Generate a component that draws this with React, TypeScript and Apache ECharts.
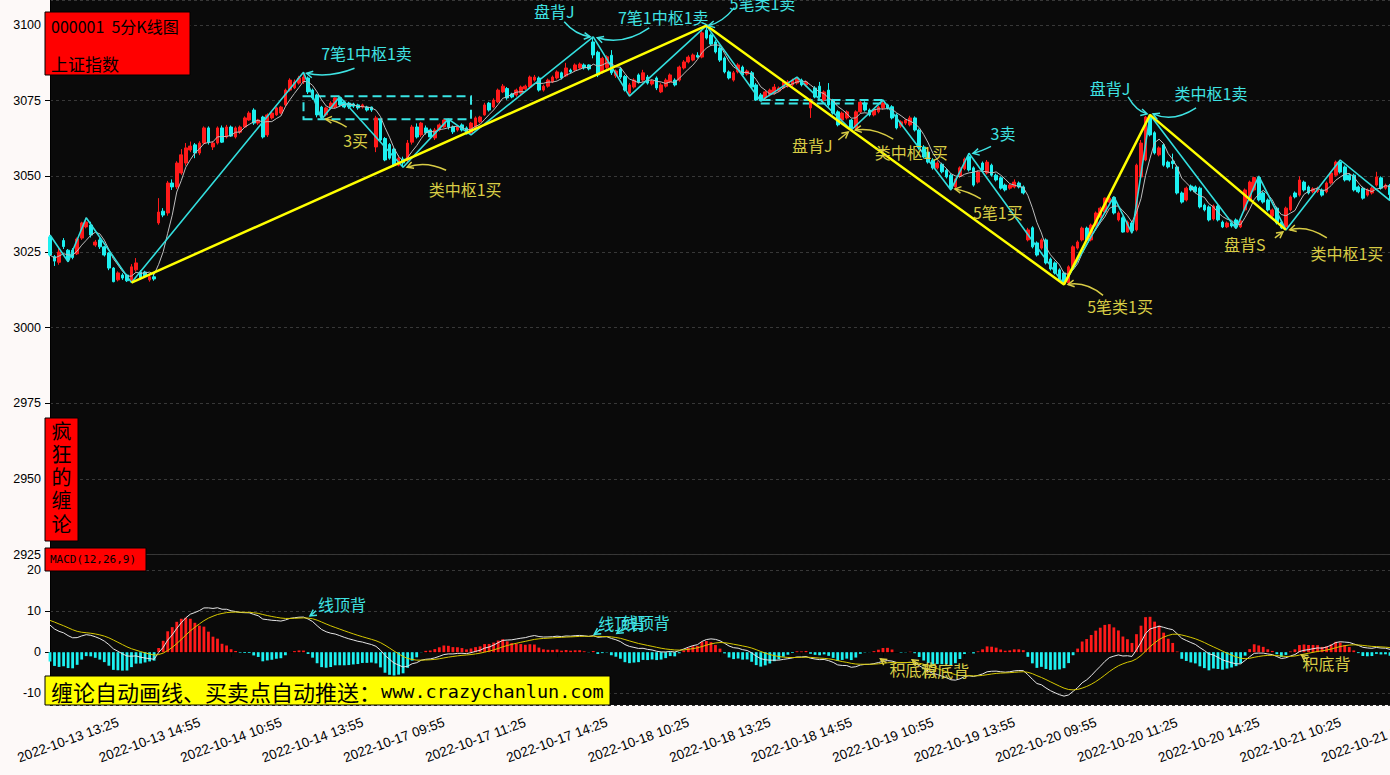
import React, { useEffect, useRef } from 'react';
import * as echarts from 'echarts';

// ---------- categories ----------
const tradingDays = ['2022-10-13', '2022-10-14', '2022-10-17', '2022-10-18', '2022-10-19', '2022-10-20', '2022-10-21'];
const firstSlot = [24, 0, 0, 0, 0, 0, 0];
const lastSlot = [47, 47, 47, 47, 47, 47, 32];

function slotTimes(): string[] {
  const out: string[] = [];
  const f = (m: number) => String(Math.floor(m / 60)).padStart(2, '0') + ':' + String(m % 60).padStart(2, '0');
  for (let m = 9 * 60 + 35; m <= 11 * 60 + 30; m += 5) out.push(f(m));
  for (let m = 13 * 60 + 5; m <= 15 * 60; m += 5) out.push(f(m));
  return out;
}
const slots = slotTimes();
const times: string[] = [];
tradingDays.forEach((d, k) => {
  for (let s = firstSlot[k]; s <= lastSlot[k]; s++) times.push(d + ' ' + slots[s]);
});

// ---------- 5-minute candles: [open, close, low, high] ----------
const candles: number[][] = [
  [3030.0, 3024.0, 3023.5, 3030.6], [3023.5, 3022.0, 3020.4, 3024.0], [3021.6, 3025.0, 3020.8, 3026.3], [3028.8, 3026.8, 3026.0, 3029.6],
  [3025.6, 3022.4, 3021.8, 3026.0], [3025.6, 3023.2, 3022.6, 3026.3], [3024.4, 3029.3, 3024.0, 3029.8], [3029.6, 3034.6, 3029.0, 3035.0],
  [3033.3, 3034.9, 3032.8, 3036.3], [3033.9, 3030.6, 3029.8, 3035.0], [3027.3, 3028.3, 3026.7, 3029.0], [3029.0, 3026.7, 3026.0, 3029.6],
  [3026.7, 3024.0, 3023.5, 3027.0], [3024.7, 3019.7, 3019.0, 3025.0], [3019.7, 3015.2, 3015.0, 3020.0], [3015.8, 3018.1, 3015.3, 3018.6],
  [3017.4, 3016.4, 3015.8, 3018.0], [3017.4, 3015.5, 3015.1, 3017.8], [3015.5, 3020.1, 3014.9, 3021.0], [3019.1, 3021.4, 3018.5, 3023.0],
  [3018.4, 3016.4, 3016.0, 3019.0], [3018.4, 3017.1, 3016.6, 3018.8], [3015.8, 3016.8, 3015.2, 3017.4], [3016.8, 3016.1, 3015.5, 3017.8],
  [3034.6, 3038.2, 3034.0, 3042.8], [3038.5, 3037.2, 3036.5, 3039.5], [3037.9, 3047.8, 3037.0, 3048.5], [3047.8, 3046.5, 3045.5, 3049.0],
  [3046.5, 3054.4, 3045.8, 3055.0], [3051.1, 3057.1, 3050.5, 3059.0], [3054.4, 3059.4, 3053.5, 3061.0], [3058.7, 3060.0, 3058.0, 3061.5],
  [3060.4, 3057.7, 3056.0, 3061.0], [3057.7, 3061.0, 3057.0, 3061.6], [3061.0, 3066.0, 3060.5, 3066.5], [3066.0, 3061.3, 3060.5, 3066.5],
  [3059.7, 3061.0, 3058.7, 3061.5], [3061.0, 3066.0, 3060.5, 3066.5], [3066.0, 3061.3, 3061.0, 3066.8], [3063.0, 3066.3, 3062.5, 3067.0],
  [3066.3, 3063.3, 3063.0, 3066.8], [3063.0, 3066.0, 3062.5, 3066.5], [3064.6, 3066.3, 3064.0, 3066.8], [3066.3, 3069.3, 3066.0, 3069.8],
  [3068.6, 3070.9, 3068.3, 3071.5], [3071.9, 3067.6, 3067.0, 3072.5], [3067.6, 3068.6, 3067.0, 3069.0], [3069.6, 3063.0, 3062.5, 3070.0],
  [3063.7, 3070.3, 3063.0, 3070.8], [3069.3, 3070.9, 3068.8, 3071.5], [3070.3, 3072.6, 3070.0, 3073.0], [3070.9, 3072.9, 3070.5, 3073.3],
  [3073.6, 3078.5, 3073.0, 3079.0], [3078.5, 3081.8, 3078.0, 3082.4], [3079.2, 3081.2, 3078.8, 3082.0], [3080.8, 3082.5, 3080.3, 3083.2],
  [3081.2, 3082.8, 3080.5, 3084.4], [3082.5, 3077.9, 3077.2, 3083.0], [3078.5, 3075.9, 3075.3, 3079.0], [3076.9, 3070.3, 3069.5, 3077.3],
  [3072.9, 3069.6, 3068.9, 3073.3], [3070.3, 3072.6, 3069.8, 3073.0], [3072.6, 3074.2, 3072.0, 3074.8], [3072.9, 3075.9, 3072.5, 3076.1],
  [3076.0, 3073.6, 3073.0, 3076.3], [3074.6, 3072.9, 3072.5, 3075.0], [3074.2, 3072.9, 3072.3, 3074.6], [3073.9, 3073.2, 3072.6, 3074.3],
  [3073.6, 3072.6, 3072.0, 3074.0], [3072.9, 3073.6, 3072.4, 3074.0], [3072.9, 3071.9, 3071.4, 3073.3], [3072.9, 3071.9, 3071.3, 3073.0],
  [3059.7, 3069.3, 3058.0, 3070.0], [3068.6, 3062.0, 3061.5, 3069.0], [3062.5, 3055.4, 3055.0, 3063.0], [3060.5, 3056.0, 3055.5, 3061.0],
  [3059.0, 3053.7, 3053.2, 3059.5], [3053.7, 3056.0, 3053.3, 3057.0], [3055.7, 3054.4, 3053.0, 3056.5], [3055.4, 3061.0, 3054.5, 3062.0],
  [3061.3, 3066.3, 3060.5, 3067.0], [3066.3, 3063.0, 3062.5, 3067.5], [3063.7, 3067.6, 3063.0, 3068.0], [3066.0, 3064.4, 3063.8, 3066.8],
  [3065.3, 3063.0, 3062.5, 3065.8], [3062.7, 3065.3, 3062.0, 3066.0], [3065.3, 3067.0, 3064.8, 3067.5], [3066.3, 3068.6, 3066.0, 3068.8],
  [3068.6, 3066.3, 3065.5, 3068.9], [3066.3, 3064.7, 3064.0, 3066.8], [3065.3, 3066.3, 3064.8, 3066.8], [3067.0, 3065.3, 3064.8, 3067.5],
  [3066.0, 3064.0, 3063.9, 3066.5], [3064.4, 3067.6, 3063.7, 3068.0], [3066.3, 3069.3, 3066.0, 3069.8], [3068.0, 3069.6, 3067.5, 3070.0],
  [3070.3, 3073.6, 3070.0, 3074.3], [3074.2, 3071.9, 3071.4, 3074.6], [3072.9, 3075.2, 3072.5, 3075.8], [3074.6, 3078.5, 3074.2, 3079.0],
  [3077.9, 3079.8, 3077.5, 3080.5], [3079.0, 3075.9, 3075.3, 3079.5], [3077.2, 3076.2, 3075.8, 3077.6], [3076.9, 3078.5, 3076.3, 3079.0],
  [3077.5, 3079.5, 3077.0, 3080.0], [3078.9, 3079.8, 3078.5, 3080.3], [3079.5, 3082.8, 3079.0, 3083.3], [3081.8, 3082.8, 3081.3, 3083.5],
  [3082.5, 3078.5, 3078.0, 3083.0], [3078.5, 3079.8, 3078.0, 3080.3], [3079.8, 3081.8, 3079.3, 3082.3], [3081.2, 3082.8, 3080.8, 3083.3],
  [3082.5, 3084.5, 3082.0, 3085.0], [3084.2, 3082.5, 3082.0, 3084.6], [3083.2, 3085.8, 3082.8, 3087.5], [3085.1, 3084.5, 3084.0, 3085.6],
  [3085.1, 3086.8, 3084.6, 3087.3], [3085.8, 3087.1, 3085.4, 3087.6], [3086.8, 3085.8, 3085.3, 3087.3], [3086.8, 3085.5, 3085.0, 3087.0],
  [3094.4, 3090.1, 3089.0, 3096.1], [3091.0, 3083.5, 3082.8, 3091.5], [3084.5, 3089.0, 3084.0, 3089.5], [3086.0, 3089.5, 3085.5, 3090.0],
  [3090.0, 3084.2, 3083.5, 3091.7], [3083.2, 3084.8, 3082.5, 3085.3], [3085.5, 3082.8, 3082.2, 3086.0], [3083.0, 3078.5, 3078.0, 3083.5],
  [3077.5, 3080.2, 3076.5, 3080.8], [3079.5, 3081.8, 3079.0, 3082.4], [3083.5, 3081.2, 3080.7, 3084.0], [3081.8, 3084.2, 3081.2, 3085.2],
  [3082.8, 3080.8, 3080.3, 3083.5], [3080.5, 3081.5, 3080.0, 3082.0], [3082.5, 3079.2, 3078.5, 3083.0], [3077.9, 3080.2, 3077.5, 3080.8],
  [3079.8, 3081.8, 3079.3, 3082.4], [3081.2, 3083.5, 3080.8, 3084.0], [3081.8, 3080.2, 3079.7, 3082.4], [3081.8, 3086.1, 3081.3, 3086.6],
  [3085.8, 3087.8, 3085.3, 3088.4], [3087.8, 3089.4, 3087.3, 3090.0], [3088.4, 3090.1, 3088.0, 3090.6], [3090.0, 3089.4, 3089.0, 3091.0],
  [3089.4, 3097.4, 3089.0, 3098.0], [3098.3, 3095.7, 3095.2, 3099.8], [3096.7, 3093.7, 3093.2, 3097.2], [3094.4, 3091.1, 3090.6, 3095.0],
  [3092.4, 3088.4, 3087.8, 3093.0], [3089.1, 3084.5, 3084.0, 3089.6], [3084.5, 3082.5, 3082.0, 3085.0], [3081.8, 3084.2, 3081.3, 3084.8],
  [3084.5, 3086.8, 3084.0, 3087.4], [3086.1, 3083.5, 3083.0, 3086.6], [3083.8, 3084.8, 3083.3, 3085.3], [3084.2, 3079.5, 3079.0, 3084.8],
  [3080.2, 3075.2, 3074.9, 3080.8], [3076.9, 3075.0, 3074.9, 3077.5], [3075.9, 3077.9, 3075.4, 3078.4], [3076.9, 3078.5, 3076.4, 3079.0],
  [3077.5, 3079.5, 3077.0, 3080.5], [3078.2, 3079.2, 3077.8, 3079.7], [3079.2, 3081.2, 3078.8, 3081.7], [3079.8, 3081.2, 3079.3, 3081.8],
  [3080.2, 3081.8, 3079.7, 3082.3], [3080.8, 3082.5, 3080.3, 3082.8], [3081.8, 3080.2, 3079.7, 3082.3], [3080.2, 3081.2, 3079.7, 3081.7],
  [3072.6, 3075.2, 3069.3, 3075.8], [3079.2, 3076.2, 3075.8, 3079.8], [3079.8, 3076.2, 3075.8, 3081.2], [3075.2, 3077.9, 3074.7, 3078.4],
  [3078.5, 3073.6, 3073.0, 3080.8], [3075.2, 3070.9, 3070.4, 3075.6], [3071.3, 3067.0, 3066.5, 3071.8], [3068.6, 3070.9, 3068.0, 3071.4],
  [3069.3, 3071.3, 3068.8, 3071.8], [3068.6, 3066.0, 3065.3, 3069.0], [3066.0, 3071.3, 3065.5, 3071.8], [3071.3, 3074.5, 3070.8, 3075.0],
  [3074.2, 3071.9, 3071.4, 3074.8], [3071.9, 3070.3, 3069.8, 3072.4], [3070.3, 3071.9, 3069.8, 3072.4], [3071.3, 3072.9, 3070.8, 3073.4],
  [3072.6, 3074.2, 3072.0, 3075.2], [3073.6, 3072.6, 3072.1, 3074.0], [3073.0, 3069.3, 3068.8, 3073.5], [3070.3, 3066.0, 3065.5, 3070.8],
  [3066.6, 3068.0, 3066.0, 3068.5], [3067.6, 3068.6, 3067.0, 3069.0], [3067.0, 3069.3, 3066.5, 3070.0], [3069.3, 3065.3, 3064.8, 3069.8],
  [3065.3, 3059.4, 3058.8, 3065.8], [3059.7, 3056.4, 3055.9, 3060.3], [3058.0, 3054.7, 3054.2, 3058.5], [3055.4, 3052.8, 3052.2, 3056.0],
  [3052.8, 3054.4, 3052.3, 3055.0], [3054.0, 3051.5, 3051.0, 3054.5], [3052.0, 3049.8, 3049.3, 3052.6], [3050.4, 3046.0, 3045.5, 3051.0],
  [3046.5, 3049.1, 3046.0, 3049.6], [3050.0, 3052.8, 3049.5, 3053.3], [3052.5, 3055.7, 3052.0, 3056.2], [3056.5, 3052.1, 3051.6, 3057.6],
  [3052.8, 3047.1, 3046.6, 3053.3], [3048.1, 3051.4, 3047.6, 3051.9], [3054.4, 3052.1, 3051.6, 3054.9], [3051.1, 3054.7, 3050.6, 3055.4],
  [3053.7, 3050.4, 3049.9, 3054.2], [3050.4, 3048.8, 3048.3, 3050.9], [3049.5, 3046.1, 3045.6, 3050.0], [3047.1, 3045.5, 3045.0, 3047.6],
  [3046.1, 3047.1, 3045.6, 3047.6], [3046.5, 3048.1, 3046.0, 3049.0], [3047.8, 3046.5, 3046.0, 3048.3], [3046.5, 3044.5, 3044.0, 3047.0],
  [3029.0, 3032.3, 3028.5, 3033.0], [3033.0, 3026.7, 3026.2, 3033.5], [3028.0, 3024.0, 3023.5, 3028.5], [3026.3, 3029.0, 3025.8, 3029.5],
  [3029.0, 3021.4, 3020.9, 3029.5], [3022.7, 3019.4, 3018.9, 3023.2], [3021.4, 3018.1, 3017.6, 3021.9], [3019.1, 3015.8, 3015.3, 3019.6],
  [3018.1, 3014.8, 3014.3, 3018.6], [3014.8, 3020.1, 3014.5, 3020.6], [3020.1, 3026.7, 3019.6, 3027.2], [3026.3, 3028.3, 3025.8, 3028.8],
  [3029.0, 3032.9, 3028.5, 3033.4], [3032.9, 3029.0, 3028.5, 3033.4], [3029.0, 3033.9, 3028.5, 3034.4], [3033.9, 3037.9, 3033.4, 3038.4],
  [3036.6, 3039.5, 3036.1, 3040.0], [3038.2, 3042.8, 3037.7, 3043.0], [3041.5, 3042.8, 3041.0, 3043.2], [3043.0, 3037.9, 3037.4, 3043.3],
  [3035.6, 3037.9, 3035.1, 3038.4], [3036.3, 3031.6, 3031.4, 3036.8], [3031.6, 3034.9, 3031.4, 3035.4], [3034.6, 3032.0, 3031.2, 3035.1],
  [3032.3, 3053.7, 3031.8, 3054.2], [3049.8, 3061.0, 3049.3, 3062.0], [3055.4, 3069.6, 3055.0, 3070.0], [3069.9, 3063.7, 3063.2, 3070.3],
  [3064.4, 3057.7, 3057.2, 3064.9], [3057.1, 3059.4, 3056.6, 3059.9], [3060.4, 3053.7, 3053.2, 3060.9], [3054.7, 3053.1, 3052.6, 3055.2],
  [3055.0, 3054.2, 3052.5, 3057.5], [3053.1, 3044.5, 3044.0, 3053.6], [3044.5, 3041.5, 3041.0, 3045.0], [3042.2, 3046.1, 3041.7, 3046.6],
  [3046.8, 3045.5, 3045.0, 3047.3], [3046.5, 3044.9, 3044.4, 3047.0], [3046.1, 3039.9, 3039.4, 3046.6], [3040.5, 3038.9, 3038.4, 3041.0],
  [3039.9, 3035.6, 3035.1, 3040.4], [3035.9, 3040.2, 3035.4, 3040.7], [3040.2, 3035.6, 3035.1, 3040.7], [3034.9, 3033.3, 3032.9, 3035.4],
  [3033.3, 3034.6, 3032.9, 3035.1], [3034.6, 3033.6, 3033.1, 3035.0], [3035.6, 3033.3, 3032.8, 3036.1], [3033.3, 3035.3, 3032.9, 3035.8],
  [3038.9, 3045.5, 3038.4, 3046.0], [3042.2, 3048.1, 3041.7, 3048.6], [3045.5, 3049.6, 3045.0, 3049.9], [3049.6, 3042.2, 3041.7, 3050.1],
  [3044.5, 3041.5, 3041.0, 3045.0], [3042.2, 3038.9, 3038.4, 3042.7], [3036.9, 3038.9, 3036.4, 3039.4], [3039.5, 3034.6, 3034.1, 3040.0],
  [3034.9, 3033.0, 3032.6, 3035.4], [3033.3, 3039.5, 3032.3, 3040.0], [3038.9, 3043.2, 3038.4, 3043.7], [3044.5, 3043.2, 3042.7, 3045.0],
  [3043.8, 3048.8, 3043.3, 3050.0], [3048.1, 3045.5, 3045.0, 3048.6], [3046.5, 3044.5, 3044.0, 3047.0], [3044.9, 3045.9, 3044.4, 3046.4],
  [3045.0, 3046.1, 3044.5, 3046.6], [3045.5, 3043.8, 3043.3, 3046.0], [3044.9, 3047.8, 3044.4, 3048.3], [3047.8, 3051.1, 3047.3, 3051.6],
  [3050.4, 3054.7, 3049.9, 3055.2], [3054.7, 3051.4, 3050.9, 3055.4], [3053.1, 3048.8, 3048.3, 3053.6], [3050.4, 3048.8, 3048.3, 3050.9],
  [3050.4, 3045.5, 3045.0, 3050.9], [3046.5, 3044.9, 3044.4, 3047.0], [3046.1, 3042.8, 3042.3, 3046.6], [3043.8, 3045.5, 3043.3, 3046.0],
  [3044.5, 3046.1, 3044.0, 3046.6], [3047.1, 3049.8, 3046.6, 3051.5], [3049.5, 3046.1, 3045.6, 3050.0], [3046.1, 3047.1, 3045.6, 3047.6],
  [3047.0, 3044.0, 3042.0, 3047.5],
];

// ---------- chan-theory strokes (bi) and segments: [bar index, price] ----------
const biPoints: number[][] = [
  [0, 3030.6], [4, 3021.8], [8, 3036.3], [18, 3014.9], [56, 3084.4], [60, 3068.9], [64, 3076.3], [78, 3053.0],
  [88, 3068.9], [93, 3063.7], [120, 3096.1], [128, 3076.5], [145, 3099.8], [157, 3074.9], [165, 3082.8], [177, 3065.3],
  [184, 3075.2], [199, 3045.5], [203, 3057.6], [224, 3014.3], [235, 3043.3], [239, 3031.2], [243, 3070.3], [262, 3032.8],
  [267, 3050.1], [273, 3032.3], [285, 3055.4], [296, 3042.0],
];
const segPoints: number[][] = [[18, 3014.9], [145, 3099.8], [224, 3014.3], [243, 3070.3], [273, 3032.3]];

// pivot zones (zhongshu): [startBar, endBar, low, high]
const zones: number[][] = [[56, 93, 3068.9, 3076.5], [157, 184, 3074.1, 3075.2]];

// MACD state carried in from before the visible window: ema12, ema26, dea
const macdSeed = [3028.5, 3021.0, 8.0];

// ---------- derived series ----------
const closes = candles.map((c) => c[1]);
const ma5 = closes.map((_, i) => {
  const s = closes.slice(Math.max(0, i - 4), i + 1);
  return +(s.reduce((a, b) => a + b, 0) / s.length).toFixed(2);
});
const dif: number[] = [];
const dea: number[] = [];
const macd: number[] = [];
{
  let e12 = macdSeed[0], e26 = macdSeed[1], d = macdSeed[2];
  closes.forEach((c) => {
    e12 = e12 + (2 / 13) * (c - e12);
    e26 = e26 + (2 / 27) * (c - e26);
    const df = e12 - e26;
    d = d + 0.2 * (df - d);
    dif.push(+df.toFixed(3));
    dea.push(+d.toFixed(3));
    macd.push(+(2 * (df - d)).toFixed(3));
  });
}

// ---------- colours ----------
const RED = '#ff1a1a';
const CY = '#1cf0f0';
const BI = '#33dede';
const YEL = '#ffff00';
const NOTE_C = '#3fe3e3';
const NOTE_Y = '#d8cc45';
const CJK = '"Noto Sans CJK SC", "Noto Sans", sans-serif';
const LAT = '"Liberation Sans", Arial, sans-serif';

// annotations: pane, bar, value, label, colour, layout offsets (text, arrow start, control, end)
type Note = { pane: number; bar: number; v: number; t: string; c: string; tx: number[]; a: number[]; k: number[]; e: number[] };
const notes: Note[] = [
  { pane: 0, bar: 56, v: 3084.4, t: '7笔1中枢1卖', c: NOTE_C, tx: [63, -19], a: [51, -4], k: [26, 6], e: [3, 1] },
  { pane: 0, bar: 60, v: 3068.9, t: '3买', c: NOTE_Y, tx: [34, 21], a: [25, 8], k: [15, 1], e: [4, 0] },
  { pane: 0, bar: 78, v: 3053.0, t: '类中枢1买', c: NOTE_Y, tx: [62, 22], a: [43, 3], k: [22, -7], e: [4, 0] },
  { pane: 0, bar: 120, v: 3096.1, t: '盘背J', c: NOTE_C, tx: [-39, -26], a: [-29, -15], k: [-18, -2], e: [-3, 0] },
  { pane: 0, bar: 120, v: 3096.1, t: '7笔1中枢1卖', c: NOTE_C, tx: [70, -20], a: [56, -9], k: [30, 9], e: [4, 1] },
  { pane: 0, bar: 145, v: 3099.8, t: '5笔类1卖', c: NOTE_C, tx: [56, -23], a: [28, -18], k: [16, -3], e: [2, 0] },
  { pane: 0, bar: 177, v: 3065.3, t: '盘背J', c: NOTE_Y, tx: [-39, 15], a: [-13, 10], k: [-8, 6], e: [-3, 2] },
  { pane: 0, bar: 177, v: 3065.3, t: '类中枢1买', c: NOTE_Y, tx: [60, 22], a: [42, 9], k: [22, -3], e: [4, 0] },
  { pane: 0, bar: 203, v: 3057.6, t: '3卖', c: NOTE_C, tx: [34, -20], a: [22, -7], k: [12, -2], e: [4, 0] },
  { pane: 0, bar: 199, v: 3045.5, t: '5笔1买', c: NOTE_Y, tx: [47, 22], a: [30, 9], k: [17, 1], e: [4, -1] },
  { pane: 0, bar: 224, v: 3014.3, t: '5笔类1买', c: NOTE_Y, tx: [56, 22], a: [39, 11], k: [22, -3], e: [4, 0] },
  { pane: 0, bar: 243, v: 3070.3, t: '盘背J', c: NOTE_C, tx: [-40, -27], a: [-22, -18], k: [-14, -4], e: [-3, -1] },
  { pane: 0, bar: 243, v: 3070.3, t: '类中枢1卖', c: NOTE_C, tx: [61, -22], a: [46, -7], k: [23, 8], e: [3, -1] },
  { pane: 0, bar: 273, v: 3032.3, t: '盘背S', c: NOTE_Y, tx: [-41, 14], a: [-11, 8], k: [-7, 5], e: [-3, 2] },
  { pane: 0, bar: 273, v: 3032.3, t: '类中枢1买', c: NOTE_Y, tx: [61, 23], a: [41, 8], k: [21, -5], e: [4, 0] },
  { pane: 1, bar: 57, v: 8.6, t: '线顶背', c: NOTE_C, tx: [34, -13], a: [8, -6], k: [5, -3], e: [2, -1] },
  { pane: 1, bar: 120, v: 4.1, t: '线顶背', c: NOTE_C, tx: [29, -12], a: [7, -6], k: [4, -3], e: [1, -1] },
  { pane: 1, bar: 125, v: 4.3, t: '线顶背', c: NOTE_C, tx: [30, -12], a: [7, -6], k: [4, -3], e: [1, -1] },
  { pane: 1, bar: 183, v: -1.4, t: '积底背', c: NOTE_Y, tx: [35, 11], a: [8, 5], k: [5, 3], e: [2, 1] },
  { pane: 1, bar: 190, v: -1.6, t: '积底背', c: NOTE_Y, tx: [35, 11], a: [8, 5], k: [5, 3], e: [2, 1] },
  { pane: 1, bar: 276, v: -0.4, t: '积底背', c: NOTE_Y, tx: [27, 9], a: [8, 5], k: [5, 3], e: [2, 1] },
];

const labelEvery = (i: number) => i >= 4 && (i - 4) % 18 === 0;
const plain = (v: number) => String(Math.round(v));

function buildOption() {
  return {
    animation: false,
    backgroundColor: '#fdf9f8',
    grid: [
      { left: 50, right: 0, top: 0, height: 554.7, show: true, backgroundColor: '#0a0a0a', borderWidth: 0, outerBoundsMode: 'none', containLabel: false },
      { left: 50, right: 0, top: 554.7, height: 150.3, show: true, backgroundColor: '#0a0a0a', borderWidth: 0, outerBoundsMode: 'none', containLabel: false },
    ],
    xAxis: [
      {
        type: 'category', gridIndex: 0, data: times, boundaryGap: false,
        axisLine: { show: false }, axisTick: { show: false }, axisLabel: { show: false }, splitLine: { show: false },
      },
      {
        type: 'category', gridIndex: 1, data: times, boundaryGap: false,
        axisLine: { show: true, lineStyle: { color: '#000', width: 1 } },
        axisTick: { show: true, interval: labelEvery, length: 5, lineStyle: { color: '#000' } },
        axisLabel: {
          interval: labelEvery, rotate: 20, align: 'center', verticalAlign: 'middle', margin: 35,
          color: '#000', fontSize: 13.5, fontFamily: LAT, hideOverlap: false,
        },
        splitLine: { show: false },
      },
    ],
    yAxis: [
      {
        type: 'value', gridIndex: 0, min: 2925, max: 3108.26, interval: 25,
        axisLine: { show: true, lineStyle: { color: '#000' } },
        axisTick: { show: true, length: 5, lineStyle: { color: '#000' } },
        axisLabel: { color: '#000', fontSize: 12.5, margin: 9, showMaxLabel: false, fontFamily: LAT, formatter: plain },
        splitLine: { show: true, lineStyle: { color: '#383838', type: [3, 3], width: 1 } },
      },
      {
        type: 'value', gridIndex: 1, min: -12.82, max: 23.67, minInterval: 10, maxInterval: 10,
        axisLine: { show: true, lineStyle: { color: '#000' } },
        axisTick: { show: true, length: 5, lineStyle: { color: '#000' } },
        axisLabel: { color: '#000', fontSize: 12.5, margin: 9, showMaxLabel: false, showMinLabel: false, fontFamily: LAT, formatter: plain },
        splitLine: { show: true, lineStyle: { color: '#383838', type: [3, 3], width: 1 } },
      },
    ],
    series: [
      {
        type: 'candlestick', xAxisIndex: 0, yAxisIndex: 0, data: candles, barWidth: 3.2, z: 2,
        itemStyle: { color: RED, color0: CY, borderColor: RED, borderColor0: CY, borderWidth: 1 },
      },
      {
        type: 'line', xAxisIndex: 0, yAxisIndex: 0, data: ma5, symbol: 'none', z: 3,
        lineStyle: { color: '#bdbdbd', width: 1 },
      },
      {
        type: 'line', xAxisIndex: 0, yAxisIndex: 0, data: biPoints, symbol: 'none', z: 4,
        lineStyle: { color: BI, width: 1.6 },
        markArea: {
          silent: true,
          label: { show: false },
          itemStyle: { color: 'rgba(0,0,0,0)', borderColor: '#39e4e4', borderWidth: 2, borderType: [9, 5] },
          data: zones.map((z) => [{ xAxis: times[z[0]], yAxis: z[2] }, { xAxis: times[z[1]], yAxis: z[3] }]),
        },
      },
      {
        type: 'line', xAxisIndex: 0, yAxisIndex: 0, data: segPoints, symbol: 'none', z: 5,
        lineStyle: { color: YEL, width: 2.5 },
      },
      {
        type: 'bar', xAxisIndex: 1, yAxisIndex: 1, barWidth: 2.8, z: 2,
        data: macd.map((v) => ({ value: v, itemStyle: { color: v >= 0 ? RED : CY } })),
      },
      {
        type: 'line', xAxisIndex: 1, yAxisIndex: 1, data: dif, symbol: 'none', z: 3,
        lineStyle: { color: '#e6e6e6', width: 1 },
      },
      {
        type: 'line', xAxisIndex: 1, yAxisIndex: 1, data: dea, symbol: 'none', z: 3,
        lineStyle: { color: '#d6c800', width: 1 },
      },
    ],
  };
}

function buildGraphics(chart: any) {
  const g: any[] = [];
  // annotations tied to chart coordinates
  notes.forEach((n) => {
    const p = chart.convertToPixel({ gridIndex: n.pane }, [n.bar, n.v]);
    if (!p) return;
    const [px, py] = p;
    const ax = px + n.a[0], ay = py + n.a[1];
    const kx = px + n.k[0], ky = py + n.k[1];
    const ex = px + n.e[0], ey = py + n.e[1];
    g.push({
      type: 'bezierCurve', z: 50, silent: true,
      shape: { x1: ax, y1: ay, x2: ex, y2: ey, cpx1: kx, cpy1: ky },
      style: { stroke: n.c, lineWidth: 1.5, fill: 'none' },
    });
    const ang = Math.atan2(ey - ky, ex - kx);
    const L = 7;
    g.push({
      type: 'polyline', z: 50, silent: true,
      shape: {
        points: [
          [ex - L * Math.cos(ang - 0.5), ey - L * Math.sin(ang - 0.5)],
          [ex, ey],
          [ex - L * Math.cos(ang + 0.5), ey - L * Math.sin(ang + 0.5)],
        ],
      },
      style: { stroke: n.c, lineWidth: 1.5, fill: 'none' },
    });
    g.push({
      type: 'text', z: 51, silent: true,
      style: { text: n.t, x: px + n.tx[0], y: py + n.tx[1], fill: n.c, font: `16px ${CJK}`, align: 'center', verticalAlign: 'middle' },
    });
  });

  // title box
  g.push({ type: 'rect', z: 60, shape: { x: 45, y: 12, width: 145, height: 63 }, style: { fill: '#ff0000', stroke: '#000', lineWidth: 1 } });
  g.push({ type: 'text', z: 61, style: { text: '000001  5分K线图', x: 51, y: 26, fill: '#000', font: `16px ${CJK}`, verticalAlign: 'middle' } });
  g.push({ type: 'text', z: 61, style: { text: '上证指数', x: 51, y: 63, fill: '#000', font: `17px ${CJK}`, verticalAlign: 'middle' } });

  // vertical brand box
  g.push({ type: 'rect', z: 60, shape: { x: 45, y: 418, width: 33, height: 123 }, style: { fill: '#ff0000', stroke: '#000', lineWidth: 1 } });
  ['疯', '狂', '的', '缠', '论'].forEach((ch, i) => {
    g.push({ type: 'text', z: 61, style: { text: ch, x: 61.5, y: 430 + i * 23.3, fill: '#000', font: `20px ${CJK}`, align: 'center', verticalAlign: 'middle' } });
  });

  // MACD label
  g.push({ type: 'rect', z: 60, shape: { x: 45, y: 548, width: 101, height: 23 }, style: { fill: '#ff0000', stroke: '#000', lineWidth: 1 } });
  g.push({ type: 'text', z: 61, style: { text: 'MACD(12,26,9)', x: 50, y: 559.5, fill: '#000', font: '11px "DejaVu Sans Mono", monospace', verticalAlign: 'middle' } });

  // promo box
  g.push({ type: 'rect', z: 60, shape: { x: 45, y: 676, width: 565, height: 29 }, style: { fill: '#ffff00', stroke: '#000', lineWidth: 1 } });
  g.push({
    type: 'text', z: 61,
    style: {
      text: '{c|缠论自动画线、买卖点自动推送：}{m|www.crazychanlun.com}', x: 51, y: 691, verticalAlign: 'middle',
      rich: {
        c: { font: `22px ${CJK}`, fill: '#000' },
        m: { font: '18.5px "DejaVu Sans Mono", monospace', fill: '#000' },
      },
    },
  });
  return g;
}

export default function App() {
  const ref = useRef<HTMLDivElement>(null);
  useEffect(() => {
    const el = ref.current;
    if (!el) return;
    const chart = echarts.init(el, null, { renderer: 'svg' });
    chart.setOption(buildOption() as any);
    chart.setOption({ graphic: buildGraphics(chart) } as any);
    return () => chart.dispose();
  }, []);
  return <div ref={ref} style={{ position: 'fixed', left: 0, top: 0, width: 1390, height: 775 }} />;
}
